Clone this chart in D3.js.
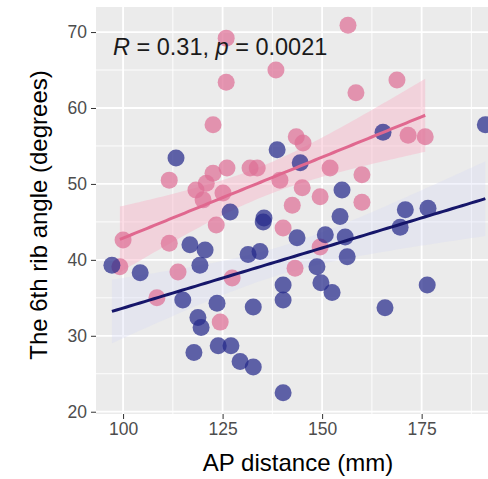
<!DOCTYPE html>
<html><head><meta charset="utf-8">
<script src="https://cdn.jsdelivr.net/npm/d3@7"></script>
<style>body{margin:0;background:#fff}svg{display:block}</style>
</head><body>
<svg id="c" width="488" height="479"></svg>
<script>
const xTicks = [100, 125, 150, 175];
const yTicks = [20, 30, 40, 50, 60, 70];
const xMinor = [112.5, 137.5, 162.5, 187.5];
const yMinor = [25, 35, 45, 55, 65];
const xLabel = "AP distance (mm)";
const yLabel = "The 6th rib angle (degrees)";

const pinkX = [125.9,156.5,125.9,138.4,158.5,168.8,122.6,143.5,145.2,171.6,175.9,152.0,160.0,145.0,160.0,142.5,140.2,149.5,143.2,111.6,120.9,122.6,120.1,123.4,100.0,111.6,126.1,131.9,133.7,125.1,139.4,99.2,113.8,108.5,127.4,124.4,118.3,149.5];
const pinkY = [69.2,70.9,63.4,65.0,62.0,63.7,57.8,56.2,55.4,56.4,56.2,52.1,51.2,49.5,47.6,47.2,44.2,41.7,38.9,50.5,50.1,51.4,47.9,44.6,42.6,42.2,52.1,52.1,52.1,48.8,50.5,39.1,38.4,35.0,37.6,31.8,49.2,48.3];
const blueX = [113.3,138.7,165.3,191.0,144.5,155.0,170.9,176.6,169.6,154.5,143.7,150.8,155.8,156.3,148.7,140.2,149.7,152.5,140.2,165.8,176.4,140.2,97.2,104.3,116.8,120.6,119.3,115.0,126.9,123.6,131.4,134.4,132.7,135.4,118.8,119.6,117.8,123.9,127.1,129.4,132.7,135.2];
const blueY = [53.4,54.5,56.8,57.8,52.8,49.2,46.6,46.8,44.3,45.7,42.9,43.3,43.0,40.4,39.1,36.7,37.0,35.7,34.7,33.7,36.7,22.5,39.3,38.3,42.0,41.3,39.3,34.7,46.3,34.3,40.7,41.1,33.8,45.5,32.4,31.1,27.8,28.7,28.7,26.6,25.9,45.0];
const bandScale = 0.75;

const svg = d3.select("#c");
const x = d3.scaleLinear().domain([93.2, 198.2]).range([96, 514]);
const y = d3.scaleLinear().domain([19.7, 73.3]).range([414, 7]);

const clip = svg.append("defs").append("clipPath").attr("id","pc");
clip.append("rect").attr("x",96).attr("y",7).attr("width",418).attr("height",407);

svg.append("rect").attr("x",96).attr("y",7).attr("width",418).attr("height",407).attr("fill","#EBEBEB");
const g = svg.append("g").attr("clip-path","url(#pc)");
g.selectAll(".xm").data(xMinor).join("line").attr("x1",d=>x(d)).attr("x2",d=>x(d)).attr("y1",7).attr("y2",414).attr("stroke","#fff").attr("stroke-width",0.9);
g.selectAll(".ym").data(yMinor).join("line").attr("y1",d=>y(d)).attr("y2",d=>y(d)).attr("x1",96).attr("x2",514).attr("stroke","#fff").attr("stroke-width",0.9);
g.selectAll(".xM").data(xTicks).join("line").attr("x1",d=>x(d)).attr("x2",d=>x(d)).attr("y1",7).attr("y2",414).attr("stroke","#fff").attr("stroke-width",1.8);
g.selectAll(".yM").data(yTicks).join("line").attr("y1",d=>y(d)).attr("y2",d=>y(d)).attr("x1",96).attr("x2",514).attr("stroke","#fff").attr("stroke-width",1.8);

function fit(xs, ys){
  const n = xs.length, mx = d3.mean(xs), my = d3.mean(ys);
  let sxx=0, sxy=0; xs.forEach((v,i)=>{sxx+=(v-mx)**2; sxy+=(v-mx)*(ys[i]-my);});
  const b = sxy/sxx, a = my - b*mx;
  let sse=0; xs.forEach((v,i)=>{sse+=(ys[i]-a-b*v)**2;});
  const s = Math.sqrt(sse/(n-2)), t = 2.02*bandScale;
  const lo = d3.min(xs), hi = d3.max(xs);
  return d3.range(0,81).map(k=>{const xv = lo+(hi-lo)*k/80; const yh=a+b*xv; const se=s*Math.sqrt(1/n+(xv-mx)**2/sxx); return {x:xv,y:yh,l:yh-t*se,u:yh+t*se};});
}
const pinkFit = fit(pinkX, pinkY), blueFit = fit(blueX, blueY);
const area = d3.area().x(d=>x(d.x)).y0(d=>y(d.l)).y1(d=>y(d.u));
g.append("path").attr("d",area(blueFit)).attr("fill","#D4D6F4").attr("opacity",0.3);
g.append("path").attr("d",area(pinkFit)).attr("fill","#F9B3C8").attr("opacity",0.45);

g.selectAll(".pp").data(pinkX.map((v,i)=>[v,pinkY[i]])).join("circle").attr("cx",d=>x(d[0])).attr("cy",d=>y(d[1])).attr("r",8.5).attr("fill","#DE6F96").attr("opacity",0.72);
g.selectAll(".bp").data(blueX.map((v,i)=>[v,blueY[i]])).join("circle").attr("cx",d=>x(d[0])).attr("cy",d=>y(d[1])).attr("r",8.5).attr("fill","#25298A").attr("opacity",0.72);

const line = d3.line().x(d=>x(d.x)).y(d=>y(d.y));
g.append("path").attr("d",line(pinkFit)).attr("fill","none").attr("stroke","#E0688F").attr("stroke-width",3);
g.append("path").attr("d",line(blueFit)).attr("fill","none").attr("stroke","#16166A").attr("stroke-width",3);

const xa = svg.append("g").attr("transform","translate(0,414)").call(d3.axisBottom(x).tickValues(xTicks).tickSize(5).tickPadding(4));
const ya = svg.append("g").attr("transform","translate(96,0)").call(d3.axisLeft(y).tickValues(yTicks).tickSize(5).tickPadding(4));
[xa,ya].forEach(a=>{a.select(".domain").remove(); a.selectAll("line").attr("stroke","#333"); a.selectAll("text").attr("fill","#4D4D4D").attr("font-family","Liberation Sans, Arial, sans-serif").attr("font-size",17.5);});

svg.append("text").attr("x",298).attr("y",471).attr("text-anchor","middle").attr("font-family","Liberation Sans, Arial, sans-serif").attr("font-size",24).attr("fill","#000").text(xLabel);
svg.append("text").attr("transform","translate(47,215) rotate(-90)").attr("text-anchor","middle").attr("font-family","Liberation Sans, Arial, sans-serif").attr("font-size",24).attr("fill","#000").text(yLabel);

const ann = svg.append("text").attr("x",113).attr("y",55).attr("font-family","Liberation Sans, Arial, sans-serif").attr("font-size",23.5).attr("fill","#1a1a1a");
ann.append("tspan").attr("font-style","italic").text("R");
ann.append("tspan").text(" = 0.31, ");
ann.append("tspan").attr("font-style","italic").text("p");
ann.append("tspan").text(" = 0.0021");
</script>
</body></html>
